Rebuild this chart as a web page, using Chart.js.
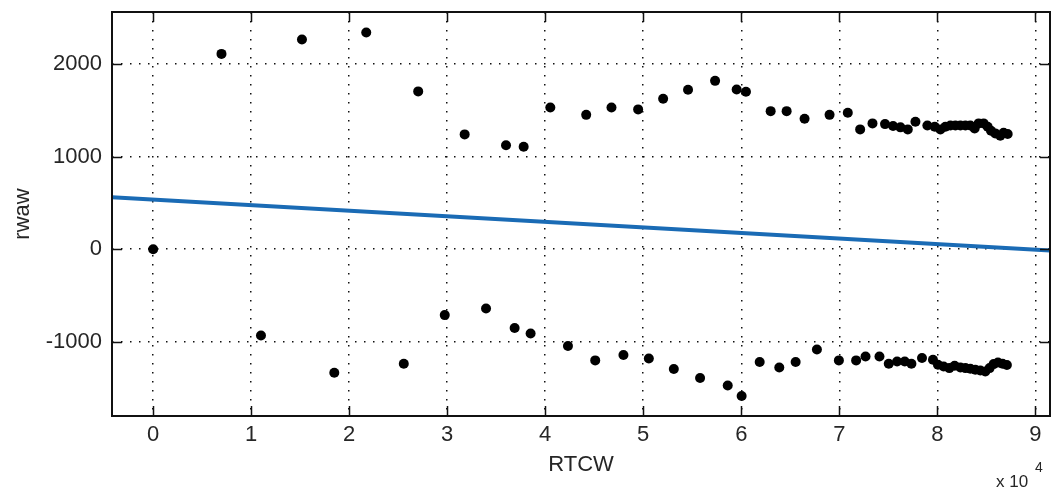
<!DOCTYPE html>
<html lang="en">
<head>
    <meta charset="UTF-8">
    <title>rwaw vs RTCW</title>
    <script src="https://cdn.jsdelivr.net/npm/chart.js"></script>
    <style>
        body { margin: 0; background: #fff; }
        #chartContainer { width: 1055px; height: 495px; }
    </style>
</head>
<body>
    <div id="chartContainer">
        <canvas id="scatterChart"></canvas>
    </div>

    <script>
        // tick values
        const xTickVals = [0, 10000, 20000, 30000, 40000, 50000, 60000, 70000, 80000, 90000];
        const yTickVals = [-1000, 0, 1000, 2000];

        // upper branch of points
        const upperX = [6970, 15180, 21740, 27040, 31780, 36000, 37800, 40520, 44180, 46760, 49480, 52030,
            54570, 57330, 59530, 60480, 63000, 64630, 66460, 69010, 70870, 72130, 73390, 74670, 75490,
            76240, 76990, 77770, 78990, 79740, 80320, 80830, 81340, 81850, 82360, 82870, 83370, 83810,
            84220, 84730, 85140, 85480, 85920, 86430, 86770, 87180];
        const upperY = [2108, 2263, 2338, 1703, 1239, 1121, 1106, 1530, 1450, 1530, 1509, 1623,
            1720, 1817, 1724, 1699, 1490, 1490, 1407, 1450, 1472, 1293, 1358, 1350, 1329,
            1315, 1293, 1375, 1336, 1321, 1293, 1321, 1336, 1336, 1336, 1336, 1336, 1304,
            1358, 1358, 1321, 1278, 1250, 1224, 1257, 1243];

        // lower branch of points
        const lowerX = [0, 11000, 18480, 25570, 29750, 33960, 36880, 38510, 42320, 45100, 47980, 50570,
            53120, 55800, 58620, 60040, 61880, 63880, 65550, 67720, 69960, 71720, 72680, 74100, 75050,
            75900, 76680, 77360, 78440, 79560, 80070, 80650, 81230, 81770, 82360, 82870, 83370, 83880,
            84390, 84900, 85340, 85750, 86190, 86660, 87100];
        const lowerY = [0, -931, -1333, -1236, -711, -640, -851, -909, -1045, -1200, -1142, -1179,
            -1293, -1390, -1470, -1584, -1218, -1276, -1218, -1082, -1200, -1200, -1157, -1157, -1236,
            -1211, -1211, -1236, -1175, -1193, -1247, -1265, -1283, -1258, -1276, -1283, -1290, -1301,
            -1308, -1319, -1283, -1240, -1222, -1236, -1250];

        // fitted line (end points)
        const fitX = [-4200, 91500];
        const fitY = [560, -14];

        const toPoints = (xs, ys) => xs.map((x, i) => ({ x: x, y: ys[i] }));

        const textColor = '#262626';
        const fontFamily = '"Liberation Sans", Arial, sans-serif';

        // cadre + graduations vers l'intérieur + "x 10^4"
        const framePlugin = {
            id: 'frame',
            afterDraw(chart) {
                const { ctx, chartArea: a, scales } = chart;
                ctx.save();
                ctx.strokeStyle = '#111';
                ctx.lineWidth = 1.5;
                ctx.beginPath();
                xTickVals.forEach(v => {
                    const px = Math.round(scales.x.getPixelForValue(v)) + 0.5;
                    ctx.moveTo(px, a.bottom); ctx.lineTo(px, a.bottom - 10);
                    ctx.moveTo(px, a.top); ctx.lineTo(px, a.top + 10);
                });
                yTickVals.forEach(v => {
                    const py = Math.round(scales.y.getPixelForValue(v)) + 0.5;
                    ctx.moveTo(a.left, py); ctx.lineTo(a.left + 10, py);
                    ctx.moveTo(a.right, py); ctx.lineTo(a.right - 10, py);
                });
                ctx.stroke();
                ctx.lineWidth = 2;
                ctx.strokeRect(a.left, a.top, a.right - a.left, a.bottom - a.top);

                ctx.fillStyle = textColor;
                ctx.textBaseline = 'alphabetic';
                ctx.textAlign = 'left';
                ctx.font = '17px ' + fontFamily;
                ctx.fillText('x 10', 996, 487);
                ctx.font = '14px ' + fontFamily;
                ctx.fillText('4', 1035, 472);
                ctx.restore();
            }
        };

        const ctx = document.getElementById('scatterChart').getContext('2d');

        new Chart(ctx, {
            type: 'scatter',
            data: {
                datasets: [{
                    label: 'upper',
                    data: toPoints(upperX, upperY),
                    backgroundColor: '#000',
                    borderWidth: 0,
                    pointRadius: 5
                }, {
                    label: 'lower',
                    data: toPoints(lowerX, lowerY),
                    backgroundColor: '#000',
                    borderWidth: 0,
                    pointRadius: 5
                }, {
                    type: 'line',
                    label: 'fit',
                    data: toPoints(fitX, fitY),
                    borderColor: '#1a6bb5',
                    borderWidth: 4,
                    pointRadius: 0,
                    fill: false
                }]
            },
            options: {
                responsive: true,
                maintainAspectRatio: false,
                animation: false,
                layout: { padding: { top: 12, right: 3, left: 0, bottom: 0 } },
                plugins: {
                    legend: { display: false },
                    tooltip: { enabled: false }
                },
                scales: {
                    x: {
                        type: 'linear',
                        position: 'bottom',
                        min: -4200,
                        max: 91500,
                        afterBuildTicks: s => { s.ticks = xTickVals.map(v => ({ value: v })); },
                        afterFit: s => { s.height = 79; s.paddingLeft = 0; s.paddingRight = 0; },
                        ticks: {
                            callback: v => String(v / 10000),
                            color: textColor,
                            font: { family: fontFamily, size: 22 },
                            padding: 6,
                            maxRotation: 0,
                            autoSkip: false
                        },
                        grid: { color: '#111', lineWidth: 1.5, drawTicks: false },
                        border: { display: false, dash: [1.5, 7.5] },
                        title: {
                            display: true,
                            text: 'RTCW',
                            color: textColor,
                            font: { family: fontFamily, size: 22 },
                            padding: { top: 0, bottom: 17 }
                        }
                    },
                    y: {
                        type: 'linear',
                        min: -1800,
                        max: 2560,
                        afterBuildTicks: s => { s.ticks = yTickVals.map(v => ({ value: v })); },
                        afterFit: s => { s.width = 112; s.paddingTop = 0; s.paddingBottom = 0; },
                        ticks: {
                            callback: v => String(v),
                            color: textColor,
                            font: { family: fontFamily, size: 22 },
                            padding: 10,
                            autoSkip: false
                        },
                        grid: { color: '#111', lineWidth: 1.5, drawTicks: false },
                        border: { display: false, dash: [1.5, 7.5] },
                        title: {
                            display: true,
                            text: 'rwaw',
                            color: textColor,
                            font: { family: fontFamily, size: 22 },
                            padding: { top: 10, bottom: 0 }
                        }
                    }
                }
            },
            plugins: [framePlugin]
        });
    </script>
</body>
</html>
